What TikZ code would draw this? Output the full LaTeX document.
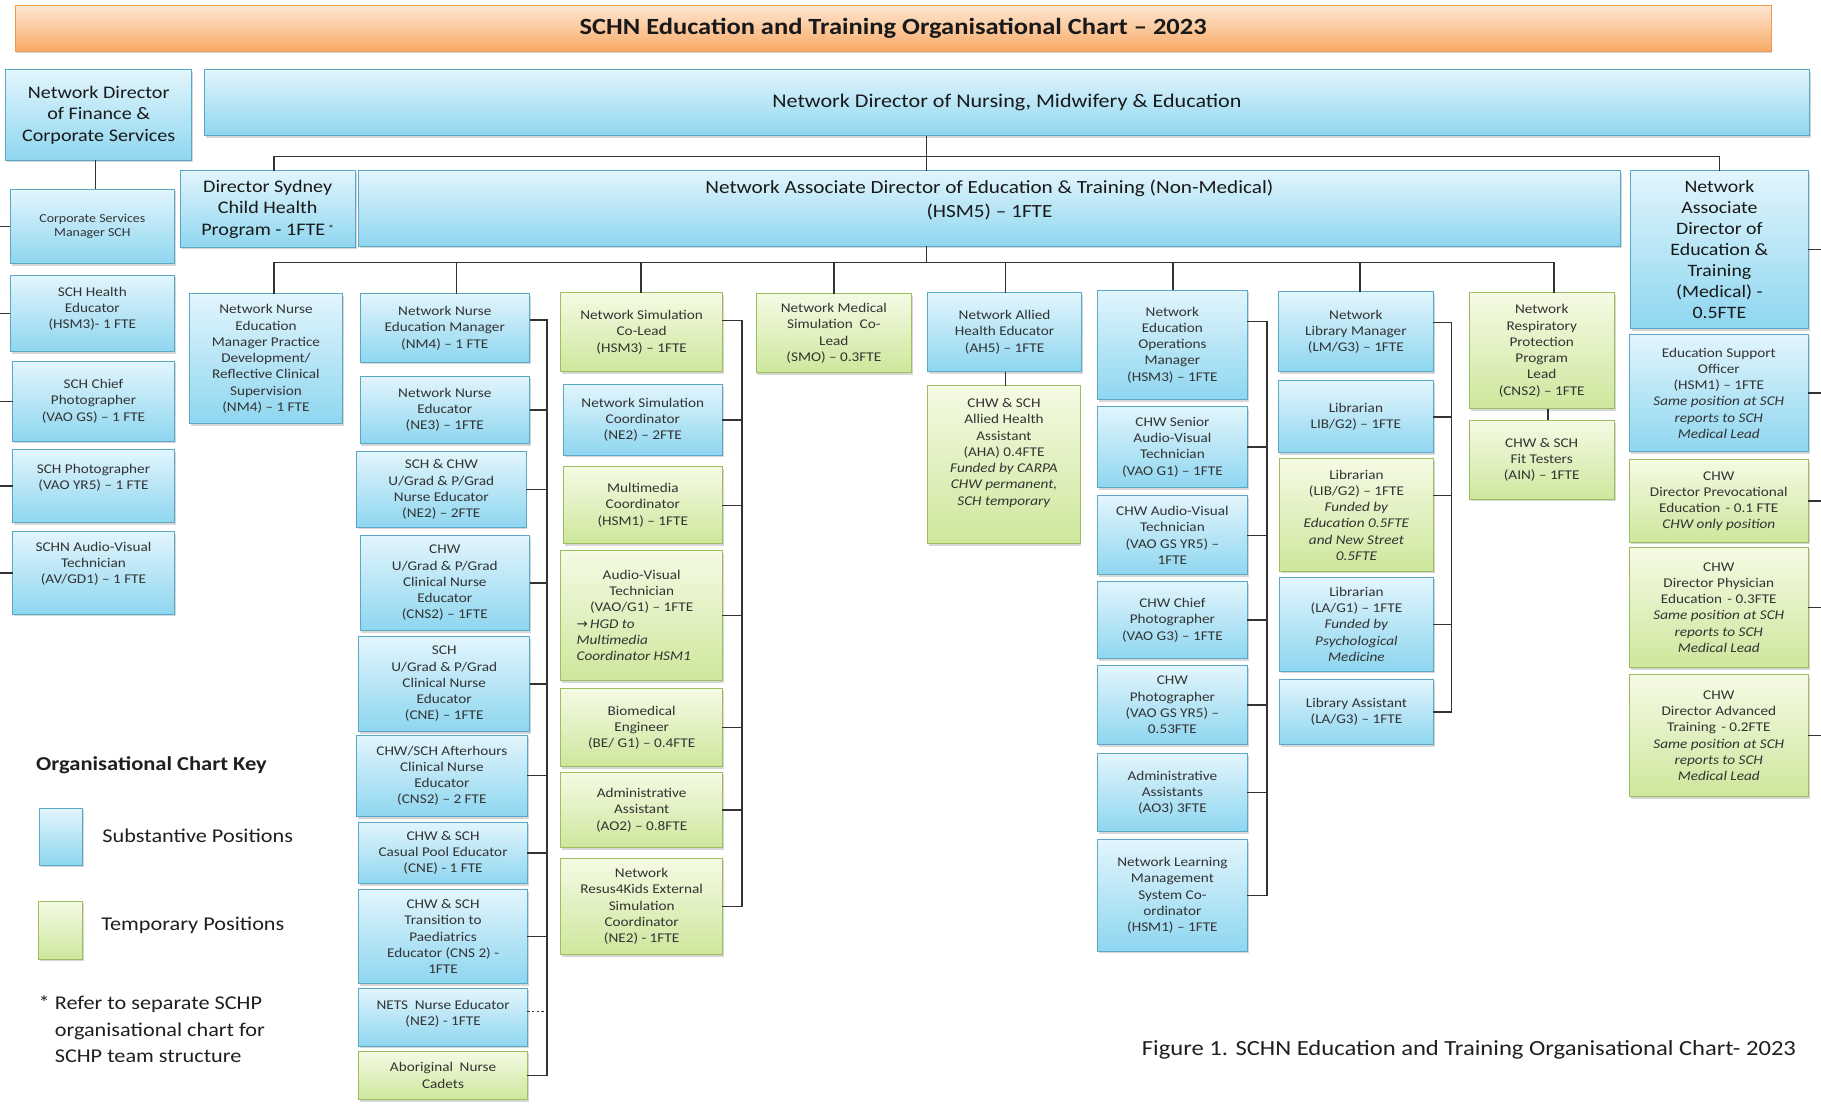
\documentclass[tikz,border=0pt]{standalone}
\usepackage{fontspec}
\setmainfont{Carlito}[FakeStretch=1.14]
\newfontfamily\arrowfont{DejaVu Sans}
\usetikzlibrary{shadows,calc}
\definecolor{bT}{HTML}{E2F5FC}
\definecolor{bB}{HTML}{8ED6F0}
\definecolor{bD}{HTML}{5AA7C6}
\definecolor{gT}{HTML}{F5FAE4}
\definecolor{gB}{HTML}{CDE79C}
\definecolor{gD}{HTML}{9DBE5E}
\definecolor{oT}{HTML}{FDE6D2}
\definecolor{oB}{HTML}{F8AA66}
\definecolor{oD}{HTML}{F09A50}
\definecolor{txt}{HTML}{333333}
\definecolor{ln}{HTML}{333333}
% \bx[opts]{style}{name}{x1}{y1}{x2}{y2}{text}
\newcommand{\bx}[8][]{%
  \pgfmathsetmacro{\bw}{#6-#4}\pgfmathsetmacro{\bh}{#7-#5}%
  \node[#2, minimum width=\bw pt, minimum height=\bh pt, #1] (#3) at ({(#4+#6)/2},{(#5+#7)/2}) {#8};}
\newcommand{\up}[1]{\\[#1pt]\mbox{}}
\newcommand{\il}[1]{\makebox[112pt][l]{\itshape #1}}
\tikzset{
  box/.style={rectangle, inner sep=0pt, outer sep=0pt, align=center, line width=0.8pt,
    drop shadow={shadow xshift=1.2pt, shadow yshift=-1.8pt, opacity=0.35, fill=black!45}},
  bbox/.style={box, top color=bT, bottom color=bB, draw=bD},
  gbox/.style={box, top color=gT, bottom color=gB, draw=gD},
  sm/.style={font=\fontsize{11.5}{14}\selectfont, text=txt},
  big/.style={font=\fontsize{15.2}{18.5}\selectfont, text=black!90},
  conn/.style={draw=ln, line width=1.2pt},
  lbl/.style={inner sep=0pt, text=black!88},
}
\begin{document}
\begin{tikzpicture}[x=1pt,y=-1pt]
\useasboundingbox (0,0) rectangle (1568,951);
% title
\bx[top color=oT, bottom color=oB, draw=oD, font=\bfseries\fontsize{20}{22}\selectfont, text=black!90]{box}{title}{13}{5}{1525}{44}{SCHN Education and Training Organisational Chart – 2023}
% top level
\bx[big]{bbox}{fin}{5}{60}{165}{138}{Network Director\\of Finance \&\\Corporate Services}
\bx[font=\fontsize{16.7}{20}\selectfont, text=black!90]{bbox}{nd}{176}{60}{1558}{117}{Network Director of Nursing, Midwifery \& Education}
\bx[big]{bbox}{ds}{155}{147}{306}{213}{Director Sydney\\Child Health\\Program - 1FTE\,\raisebox{2pt}{\small *}}
\bx[font=\fontsize{16}{20}\selectfont, text=black!90]{bbox}{ad}{309}{147}{1395}{212}{Network Associate Director of Education \& Training (Non-Medical)\\(HSM5) – 1FTE\up{-3}}
\bx[font=\fontsize{15}{18}\selectfont, text=black!90]{bbox}{med}{1404}{147}{1557}{283}{Network\\Associate\\Director of\\Education \&\\Training\\(Medical) -\\0.5FTE}
% left column
\bx[font=\fontsize{10.5}{12.5}\selectfont, text=txt]{bbox}{corp}{9}{163}{150}{227}{Corporate Services\\Manager SCH}
\bx[sm]{bbox}{L1}{9}{237}{150}{303}{SCH Health\\Educator\\(HSM3)- 1 FTE\up{-4}}
\bx[sm]{bbox}{L2}{11}{311}{150}{380}{SCH Chief\\Photographer\\(VAO GS) – 1 FTE}
\bx[sm]{bbox}{L3}{11}{387}{150}{450}{SCH Photographer\\(VAO YR5) – 1 FTE\up{2}}
\bx[sm]{bbox}{L4}{11}{458}{150}{529}{SCHN Audio-Visual\\Technician\\(AV/GD1) – 1 FTE\up{4}}
% column A
\bx[sm]{bbox}{A1}{163}{253}{295}{365}{Network Nurse\\Education\\Manager Practice\\Development/\\Reflective Clinical\\Supervision\\(NM4) – 1 FTE}
% column B
\bx[sm]{bbox}{B1}{310}{253}{456}{312}{Network Nurse\\Education Manager\\(NM4) – 1 FTE}
\bx[sm]{bbox}{B2}{310}{324}{456}{382}{Network Nurse\\Educator\\(NE3) – 1FTE}
\bx[sm]{bbox}{B3}{307}{389}{453}{454}{SCH \& CHW\\U/Grad \& P/Grad\\Nurse Educator\\(NE2) – 2FTE}
\bx[sm]{bbox}{B4}{310}{461}{456}{543}{CHW\\U/Grad \& P/Grad\\Clinical Nurse\\Educator\\(CNS2) – 1FTE}
\bx[sm]{bbox}{B5}{309}{548}{456}{630}{SCH\\U/Grad \& P/Grad\\Clinical Nurse\\Educator\\(CNE) – 1FTE}
\bx[sm]{bbox}{B6}{307}{633}{454}{703}{CHW/SCH Afterhours\\Clinical Nurse\\Educator\\(CNS2) – 2 FTE}
\bx[sm]{bbox}{B7}{309}{708}{454}{761}{CHW \& SCH\\Casual Pool Educator\\(CNE) - 1 FTE}
\bx[sm]{bbox}{B8}{309}{766}{454}{847}{CHW \& SCH\\Transition to\\Paediatrics\\Educator (CNS 2) -\\1FTE}
\bx[sm]{bbox}{B9}{309}{851}{454}{901}{NETS\hspace{0.5em}Nurse Educator\\(NE2) - 1FTE\up{-6}}
\bx[sm]{gbox}{B10}{309}{905}{454}{947}{Aboriginal\hspace{0.5em}Nurse\\Cadets}
% column C
\bx[sm]{gbox}{C1}{483}{252}{622}{320}{Network Simulation\\Co-Lead\\(HSM3) – 1FTE}
\bx[sm]{bbox}{C2}{485}{331}{622}{392}{Network Simulation\\Coordinator\\(NE2) – 2FTE}
\bx[sm]{gbox}{C3}{485}{402}{622}{468}{Multimedia\\Coordinator\\(HSM1) – 1FTE}
\bx[sm]{gbox}{C4}{483}{474}{622}{586}{Audio-Visual\\Technician\\(VAO/G1) – 1FTE\\\il{{\arrowfont\upshape →}\,HGD to}\\\il{Multimedia}\\\il{Coordinator HSM1}}
\bx[sm]{gbox}{C5}{483}{593}{622}{660}{Biomedical\\Engineer\\(BE/ G1) – 0.4FTE}
\bx[sm]{gbox}{C6}{483}{665}{622}{730}{Administrative\\Assistant\\(AO2) – 0.8FTE}
\bx[sm]{gbox}{C7}{483}{739}{622}{822}{Network\\Resus4Kids External\\Simulation\\Coordinator\\(NE2) - 1FTE}
% column D
\bx[sm]{gbox}{D1}{651}{253}{785}{321}{Network Medical\\Simulation\hspace{0.5em}Co-\\Lead\\(SMO) – 0.3FTE}
% column E
\bx[sm]{bbox}{E1}{799}{252}{931}{320}{Network Allied\\Health Educator\\(AH5) – 1FTE}
\bx[sm]{gbox}{E2}{799}{332}{930}{468}{CHW \& SCH\\Allied Health\\Assistant\\(AHA) 0.4FTE\\\textit{Funded by CARPA}\\\textit{CHW permanent,}\\\textit{SCH temporary}\up{8}}
% column F
\bx[sm]{bbox}{F1}{945}{250}{1074}{344}{Network\\Education\\Operations\\Manager\\(HSM3) – 1FTE}
\bx[sm]{bbox}{F2}{945}{350}{1074}{420}{CHW Senior\\Audio-Visual\\Technician\\(VAO G1) – 1FTE}
\bx[sm]{bbox}{F3}{945}{427}{1074}{495}{CHW Audio-Visual\\Technician\\(VAO GS YR5) –\\1FTE}
\bx[sm]{bbox}{F4}{945}{501}{1074}{567}{CHW Chief\\Photographer\\(VAO G3) – 1FTE}
\bx[sm]{bbox}{F5}{945}{573}{1074}{641}{CHW\\Photographer\\(VAO GS YR5) –\\0.53FTE}
\bx[sm]{bbox}{F6}{945}{649}{1074}{716}{Administrative\\Assistants\\(AO3) 3FTE}
\bx[sm]{bbox}{F7}{945}{723}{1074}{819}{Network Learning\\Management\\System Co-\\ordinator\\(HSM1) – 1FTE}
% column G
\bx[sm]{bbox}{G1}{1101}{251}{1234}{320}{Network\\Library Manager\\(LM/G3) – 1FTE}
\bx[sm]{bbox}{G2}{1101}{328}{1234}{390}{Librarian\\LIB/G2) – 1FTE}
\bx[sm]{gbox}{G3}{1102}{395}{1234}{492}{Librarian\\(LIB/G2) – 1FTE\\\textit{Funded by}\\\textit{Education 0.5FTE}\\\textit{and New Street}\\\textit{0.5FTE}}
\bx[sm]{bbox}{G4}{1102}{497}{1234}{578}{Librarian\\(LA/G1) – 1FTE\\\textit{Funded by}\\\textit{Psychological}\\\textit{Medicine}}
\bx[sm]{bbox}{G5}{1102}{585}{1234}{641}{Library Assistant\\(LA/G3) – 1FTE}
% column H
\bx[sm]{gbox}{H1}{1265}{252}{1390}{352}{Network\\Respiratory\\Protection\\Program\\Lead\\(CNS2) – 1FTE}
\bx[sm]{gbox}{H2}{1265}{362}{1390}{430}{CHW \& SCH\\Fit Testers\\(AIN) – 1FTE}
% medical column
\bx[sm]{bbox}{M1}{1403}{288}{1557}{389}{Education Support\\Officer\\(HSM1) – 1FTE\\\textit{Same position at SCH}\\\textit{reports to SCH}\\\textit{Medical Lead}}
\bx[sm]{gbox}{M2}{1403}{396}{1557}{467}{CHW\\Director Prevocational\\Education\hspace{0.4em}- 0.1 FTE\\\textit{CHW only position}}
\bx[sm]{gbox}{M3}{1403}{471}{1557}{575}{CHW\\Director Physician\\Education\hspace{0.4em}- 0.3FTE\\\textit{Same position at SCH}\\\textit{reports to SCH}\\\textit{Medical Lead}}
\bx[sm]{gbox}{M4}{1403}{581}{1557}{686}{CHW\\Director Advanced\\Training\hspace{0.4em}- 0.2FTE\\\textit{Same position at SCH}\\\textit{reports to SCH}\\\textit{Medical Lead}}
% legend
\node[lbl, anchor=west, font=\bfseries\fontsize{17}{20}\selectfont] (keyt) at (31,659) {Organisational Chart Key};
\bx{bbox}{kb}{34}{696}{71}{745}{}
\bx{gbox}{kg}{33}{776}{71}{826}{}
\node[lbl, anchor=west, font=\fontsize{16.8}{20}\selectfont] (kbt) at (88,720) {Substantive Positions};
\node[lbl, anchor=west, font=\fontsize{16.8}{20}\selectfont] (kgt) at (87,797) {Temporary Positions};
\node[lbl, anchor=north west, align=left, font=\fontsize{16.8}{23}\selectfont] (note) at (47,857) {\llap{* }Refer to separate SCHP\\organisational chart for\\SCHP team structure};
\node[lbl, anchor=west, font=\fontsize{18.6}{22}\selectfont] (cap) at (983,904) {Figure 1. SCHN Education and Training Organisational Chart- 2023};
% connectors
\coordinate (t0) at (798,135);
\coordinate (b0) at (798,226);
\draw[conn] (nd.south -| t0) -- (ad.north -| t0);
\draw[conn] ($(ds.north)+(5.5,0)$) |- (t0) -| (med.north);
\draw[conn] (ad.south -| b0) -- (b0);
\coordinate (dA) at (236,226);
\coordinate (dB) at (393,226);
\coordinate (dC) at (552,226);
\coordinate (dD) at (718,226);
\coordinate (dE) at (866,226);
\coordinate (dF) at (1010,226);
\coordinate (dG) at (1171,226);
\coordinate (dH) at (1338,226);
\draw[conn] (dA) -- (dH);
\foreach \c/\n in {dA/A1,dB/B1,dC/C1,dD/D1,dE/E1,dF/F1,dG/G1,dH/H1}
  \draw[conn] (\c) -- (\c |- \n.north);
\draw[conn] (E1.south -| dE) -- (E2.north -| dE);
\coordinate (hx) at (1333,0);
\draw[conn] (H1.south -| hx) -- (H2.north -| hx);
\coordinate (fx) at (82,0);
\draw[conn] (fin.south -| fx) -- (corp.north -| fx);
% column B spine
\coordinate (sB) at (471,0);
\draw[conn] ($(B1.east)+(0,-7)$) -| (sB |- B10.east) -- (B10.east);
\foreach \n in {B2,B3,B4,B5,B6,B7,B8} \draw[conn] (\n.east) -- (sB |- \n.east);
\draw[conn, dash pattern=on 2pt off 2pt] ($(B9.east)+(0,-5)$) -- ($(sB |- B9.east)+(0,-5)$);
% column C spine
\coordinate (sC) at (639,0);
\draw[conn] ($(C1.east)+(0,-10)$) -| (sC |- C7.east) -- (C7.east);
\foreach \n in {C2,C3,C4,C5,C6} \draw[conn] (\n.east) -- (sC |- \n.east);
% column F spine
\coordinate (sF) at (1091,0);
\draw[conn] ($(F1.east)+(0,-20)$) -| (sF |- F7.east) -- (F7.east);
\foreach \n in {F2,F3,F4,F5,F6} \draw[conn] (\n.east) -- (sF |- \n.east);
% column G spine
\coordinate (sG) at (1250,0);
\draw[conn] ($(G1.east)+(0,-8)$) -| (sG |- G5.east) -- (G5.east);
\draw[conn] ($(G3.east)+(0,-17)$) -- ($(sG |- G3.east)+(0,-17)$);
\foreach \n in {G2,G4} \draw[conn] (\n.east) -- (sG |- \n.east);
% left and right edge stubs
\coordinate (sL) at (0,0);
\foreach \n in {corp,L1,L2,L3,L4} \draw[conn] (sL |- \n.west) -- (\n.west);
\coordinate (sR) at (1568,0);
\foreach \n in {med,M1,M2,M3,M4} \draw[conn] (\n.east) -- (sR |- \n.east);
\end{tikzpicture}
\end{document}
